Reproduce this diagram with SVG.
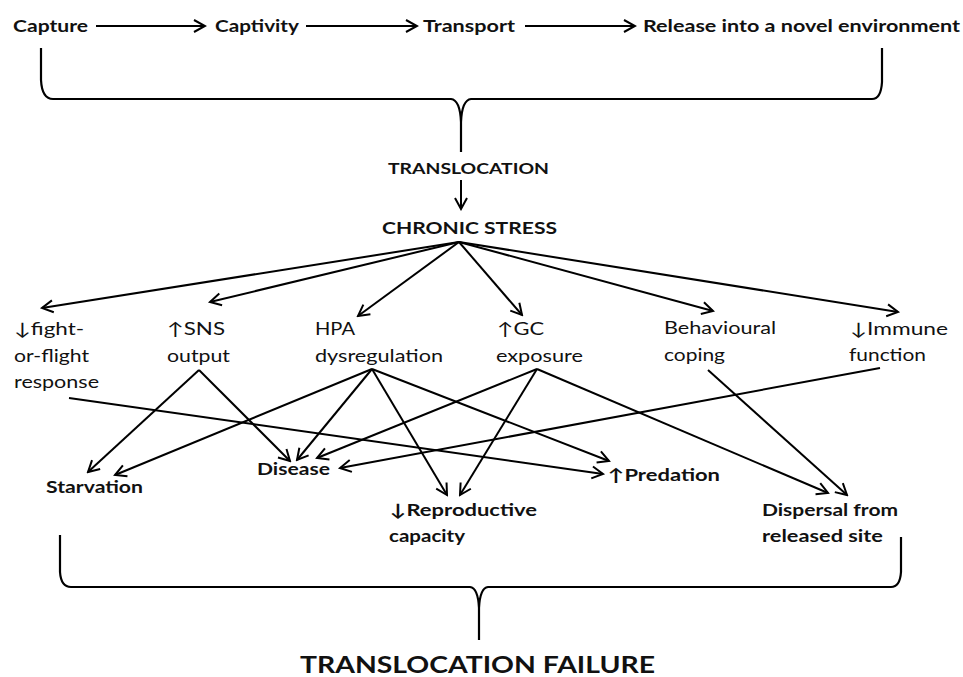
<svg xmlns="http://www.w3.org/2000/svg" width="963" height="677" viewBox="0 0 963 677">
<style>
text{font-family:Lato,"Open Sans","Liberation Sans",sans-serif;fill:#111;}
.b{font-weight:bold;font-size:17px;}
.r{font-size:17px;}
.t{font-weight:bold;font-size:15px;}
.big{font-weight:bold;font-size:22px;}
.ln{stroke:#000;stroke-width:2;fill:none;marker-end:url(#ah);}
.br{stroke:#000;stroke-width:2.2;fill:none;}
</style>
<defs>
<marker id="ah" viewBox="-13 -8 15 16" refX="0" refY="0" markerWidth="15" markerHeight="16" markerUnits="userSpaceOnUse" orient="auto">
<path d="M-11,-6 L0,0 L-11,6" fill="none" stroke="#000" stroke-width="2"/>
</marker>
</defs>
<rect width="963" height="677" fill="#fff"/>

<g id="capture"><text class="b" x="13" y="32" textLength="75" lengthAdjust="spacingAndGlyphs">Capture</text></g>
<g id="captivity"><text class="b" x="215" y="32" textLength="84" lengthAdjust="spacingAndGlyphs">Captivity</text></g>
<g id="transport"><text class="b" x="423" y="32" textLength="92" lengthAdjust="spacingAndGlyphs">Transport</text></g>
<g id="release"><text class="b" x="643" y="32" textLength="317" lengthAdjust="spacingAndGlyphs">Release into a novel environment</text></g>

<g id="translocation"><text class="t" x="388" y="174" textLength="161" lengthAdjust="spacingAndGlyphs">TRANSLOCATION</text></g>
<g id="chronic-stress"><text class="b" x="382" y="234" textLength="175" lengthAdjust="spacingAndGlyphs">CHRONIC STRESS</text></g>

<g id="fight-flight">
<text class="r" x="14" y="335" textLength="70" lengthAdjust="spacingAndGlyphs">↓fight-</text>
<text class="r" x="14" y="362" textLength="75" lengthAdjust="spacingAndGlyphs">or-flight</text>
<text class="r" x="14" y="388" textLength="85" lengthAdjust="spacingAndGlyphs">response</text>
</g>
<g id="sns">
<text class="r" x="167" y="335" textLength="58" lengthAdjust="spacingAndGlyphs">↑SNS</text>
<text class="r" x="167" y="362" textLength="63" lengthAdjust="spacingAndGlyphs">output</text>
</g>
<g id="hpa">
<text class="r" x="315" y="335" textLength="40" lengthAdjust="spacingAndGlyphs">HPA</text>
<text class="r" x="315" y="362" textLength="128" lengthAdjust="spacingAndGlyphs">dysregulation</text>
</g>
<g id="gc">
<text class="r" x="497" y="335" textLength="47" lengthAdjust="spacingAndGlyphs">↑GC</text>
<text class="r" x="496" y="362" textLength="87" lengthAdjust="spacingAndGlyphs">exposure</text>
</g>
<g id="behavioural">
<text class="r" x="664" y="334" textLength="112" lengthAdjust="spacingAndGlyphs">Behavioural</text>
<text class="r" x="664" y="361" textLength="61" lengthAdjust="spacingAndGlyphs">coping</text>
</g>
<g id="immune">
<text class="r" x="850" y="335" textLength="98" lengthAdjust="spacingAndGlyphs">↓Immune</text>
<text class="r" x="849" y="361" textLength="77" lengthAdjust="spacingAndGlyphs">function</text>
</g>

<g id="starvation"><text class="b" x="46" y="493" textLength="97" lengthAdjust="spacingAndGlyphs">Starvation</text></g>
<g id="disease"><text class="b" x="257" y="475" textLength="73" lengthAdjust="spacingAndGlyphs">Disease</text></g>
<g id="reproductive">
<text class="b" x="390" y="516" textLength="147" lengthAdjust="spacingAndGlyphs">↓Reproductive</text>
<text class="b" x="389" y="542" textLength="76" lengthAdjust="spacingAndGlyphs">capacity</text>
</g>
<g id="predation"><text class="b" x="608" y="481" textLength="112" lengthAdjust="spacingAndGlyphs">↑Predation</text></g>
<g id="dispersal">
<text class="b" x="762" y="516" textLength="136" lengthAdjust="spacingAndGlyphs">Dispersal from</text>
<text class="b" x="762" y="542" textLength="121" lengthAdjust="spacingAndGlyphs">released site</text>
</g>

<g id="failure"><text class="big" x="300" y="673" textLength="355" lengthAdjust="spacingAndGlyphs">TRANSLOCATION FAILURE</text></g>

<g id="braces">
<path class="br" d="M41,48 L41,80 Q42,99 53,99 L451,99 Q460,100 461,122 L461,152 M461,122 Q462,100 471,99 L872,99 Q881,99 882,82 L882,48"/>
<path class="br" d="M60,535 L60,572 Q61,587 71,587 L470,587 Q478,588 479,608 L479,640 M479,608 Q480,588 488,587 L891,587 Q900,587 901,572 L901,537"/>
</g>

<g id="connectors">
<line class="ln" x1="96" y1="26" x2="205" y2="26"/>
<line class="ln" x1="306" y1="26" x2="417" y2="26"/>
<line class="ln" x1="525" y1="26" x2="635" y2="26"/>
<line class="ln" x1="461" y1="180" x2="461" y2="209"/>

<line class="ln" x1="459" y1="242" x2="42" y2="308"/>
<line class="ln" x1="459" y1="242" x2="210" y2="302"/>
<line class="ln" x1="459" y1="242" x2="358" y2="316"/>
<line class="ln" x1="459" y1="242" x2="522" y2="315"/>
<line class="ln" x1="459" y1="242" x2="713" y2="311"/>
<line class="ln" x1="459" y1="242" x2="898" y2="312"/>

<line class="ln" x1="69" y1="398" x2="603" y2="474"/>
<line class="ln" x1="199" y1="370" x2="88" y2="472"/>
<line class="ln" x1="199" y1="370" x2="290" y2="461"/>
<line class="ln" x1="372" y1="369" x2="115" y2="475"/>
<line class="ln" x1="372" y1="369" x2="297" y2="460"/>
<line class="ln" x1="372" y1="369" x2="447" y2="495"/>
<line class="ln" x1="372" y1="369" x2="609" y2="461"/>
<line class="ln" x1="537" y1="369" x2="317" y2="458"/>
<line class="ln" x1="537" y1="369" x2="460" y2="495"/>
<line class="ln" x1="537" y1="369" x2="828" y2="493"/>
<line class="ln" x1="708" y1="370" x2="847" y2="495"/>
<line class="ln" x1="880" y1="368" x2="340" y2="468"/>
</g>
</svg>
